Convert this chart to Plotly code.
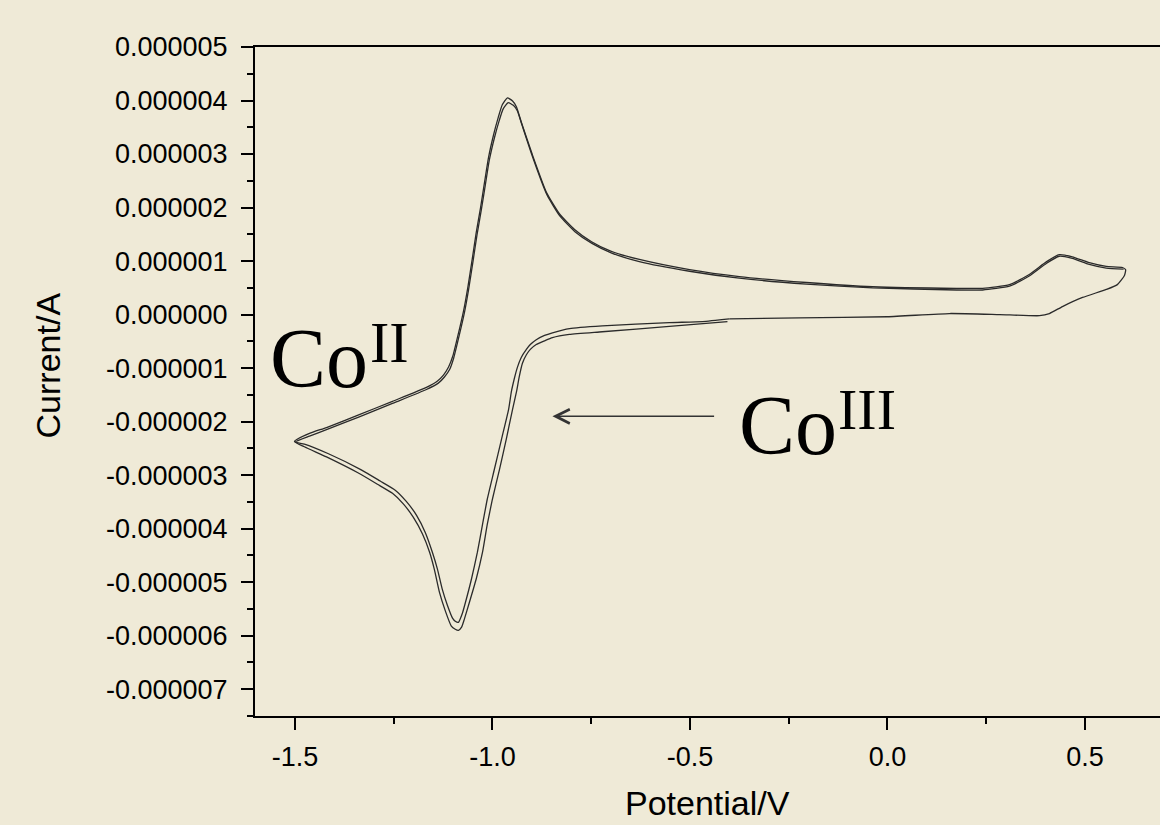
import plotly.graph_objects as go

# ---- data (potential in V, current in microamps) ----
# cycle 1: starts at -0.40 V, cathodic sweep to -1.50 V, anodic to +0.60 V, back to -0.40 V
c1_v = [-0.405, -0.552, -0.722, -0.805, -0.848, -0.868, -0.889, -0.904, -0.914, -0.924, -0.932, -0.939,
        -0.949, -0.965, -0.982, -1.000, -1.013, -1.025, -1.041, -1.058, -1.071, -1.078, -1.086, -1.094,
        -1.104, -1.119, -1.134, -1.147, -1.159, -1.177, -1.200, -1.225, -1.253, -1.291, -1.337, -1.420,
        -1.476, -1.501,
        -1.463, -1.420, -1.337, -1.253, -1.167, -1.139, -1.124, -1.111, -1.100, -1.086, -1.073, -1.062,
        -1.051, -1.041, -1.030, -1.020, -1.010, -0.997, -0.985, -0.975, -0.962, -0.949, -0.939, -0.927,
        -0.899, -0.863, -0.830, -0.792, -0.749, -0.699, -0.628, -0.501, -0.375, -0.205, -0.038, 0.175,
        0.241, 0.309, 0.359, 0.403, 0.435, 0.468, 0.511, 0.554, 0.595, 0.603,
        0.600, 0.582, 0.554, 0.494, 0.443, 0.410, 0.385, 0.284, 0.157, 0.0, -0.223, -0.400]
c1_i = [-0.13, -0.22, -0.32, -0.37, -0.43, -0.49, -0.56, -0.65, -0.75, -0.91, -1.16, -1.44,
        -1.77, -2.33, -2.89, -3.45, -3.92, -4.44, -4.94, -5.37, -5.69, -5.84, -5.90, -5.88,
        -5.82, -5.54, -5.19, -4.76, -4.44, -4.10, -3.79, -3.54, -3.34, -3.17, -2.97, -2.66,
        -2.47, -2.37,
        -2.22, -2.11, -1.87, -1.62, -1.36, -1.24, -1.13, -0.98, -0.77, -0.35, 0.07, 0.52,
        1.04, 1.53, 2.00, 2.47, 2.93, 3.36, 3.69, 3.92, 4.05, 3.99, 3.88, 3.60,
        2.99, 2.28, 1.88, 1.59, 1.36, 1.18, 1.03, 0.84, 0.71, 0.60, 0.52, 0.49,
        0.49, 0.56, 0.75, 0.99, 1.12, 1.08, 0.97, 0.90, 0.88, 0.84,
        0.73, 0.56, 0.47, 0.32, 0.15, 0.02, -0.02, 0.00, 0.02, -0.04, -0.06, -0.08]

# cycle 2: continues from -0.40 V to -1.50 V and back to +0.60 V
c2_v = [-0.400, -0.468, -0.552, -0.722, -0.805, -0.848, -0.868, -0.889, -0.904, -0.914, -0.927, -0.937,
        -0.944, -0.952, -0.959, -0.977, -0.995, -1.013, -1.025, -1.038, -1.053, -1.068, -1.076, -1.086,
        -1.094, -1.101, -1.114, -1.127, -1.139, -1.152, -1.170, -1.192, -1.218, -1.246, -1.284, -1.332,
        -1.415, -1.476, -1.499,
        -1.463, -1.420, -1.337, -1.253, -1.167, -1.137, -1.122, -1.108, -1.098, -1.084, -1.071, -1.060,
        -1.049, -1.039, -1.028, -1.018, -1.008, -0.995, -0.983, -0.973, -0.960, -0.947, -0.937, -0.925,
        -0.898, -0.862, -0.829, -0.791, -0.748, -0.698, -0.628, -0.501, -0.375, -0.205, -0.038, 0.175,
        0.241, 0.309, 0.359, 0.403, 0.435, 0.468, 0.511, 0.554, 0.598]
c2_i = [-0.08, -0.13, -0.15, -0.21, -0.26, -0.34, -0.39, -0.47, -0.56, -0.65, -0.80, -0.99,
        -1.18, -1.44, -1.77, -2.33, -2.89, -3.45, -3.92, -4.44, -4.94, -5.37, -5.58, -5.75,
        -5.73, -5.67, -5.43, -5.13, -4.76, -4.44, -4.07, -3.75, -3.49, -3.28, -3.11, -2.90,
        -2.60, -2.42, -2.38,
        -2.27, -2.15, -1.91, -1.66, -1.40, -1.28, -1.17, -1.02, -0.81, -0.39, 0.03, 0.48,
        1.00, 1.49, 1.96, 2.42, 2.88, 3.30, 3.62, 3.84, 3.96, 3.91, 3.81, 3.54,
        2.94, 2.24, 1.84, 1.55, 1.33, 1.15, 0.99, 0.81, 0.68, 0.57, 0.50, 0.46,
        0.46, 0.53, 0.72, 0.96, 1.09, 1.05, 0.94, 0.87, 0.85]

x_tickvals = [-1.5, -1.0, -0.5, 0.0, 0.5]
x_ticktext = ["-1.5", "-1.0", "-0.5", "0.0", "0.5"]
y_tickvals = [5e-6, 4e-6, 3e-6, 2e-6, 1e-6, 0, -1e-6, -2e-6, -3e-6, -4e-6, -5e-6, -6e-6, -7e-6]
y_ticktext = ["0.000005", "0.000004", "0.000003", "0.000002", "0.000001", "0.000000",
              "-0.000001", "-0.000002", "-0.000003", "-0.000004", "-0.000005", "-0.000006", "-0.000007"]

BG = "#EFEAD7"
LINE = "#2b2b2b"
SANS = "Liberation Sans, Arial, sans-serif"
SERIF = "Liberation Serif, Times New Roman, serif"

fig = go.Figure()
for vs, cs in ((c1_v, c1_i), (c2_v, c2_i)):
    fig.add_trace(go.Scatter(x=vs, y=[v * 1e-6 for v in cs], mode="lines",
                             line=dict(color=LINE, width=1.3, shape="spline", smoothing=0.5),
                             showlegend=False, hoverinfo="skip"))

axis_common = dict(showline=True, linecolor="black", linewidth=2, ticks="outside",
                   ticklen=12, tickwidth=2, tickcolor="black", showgrid=False, zeroline=False,
                   tickfont=dict(family=SANS, size=27, color="black"))

fig.update_xaxes(range=[-1.601, 0.690], tickmode="array", tickvals=x_tickvals, ticktext=x_ticktext,
                 mirror=True, ticklabelstandoff=4,
                 minor=dict(dtick=0.25, tick0=0, ticklen=6, tickwidth=2, ticks="outside",
                            tickcolor="black", showgrid=False),
                 **axis_common)
fig.update_yaxes(range=[-7.5e-6, 5e-6], tickmode="array", tickvals=y_tickvals, ticktext=y_ticktext,
                 ticklabelstandoff=8,
                 minor=dict(dtick=0.5e-6, tick0=0, ticklen=6, tickwidth=2, ticks="outside",
                            tickcolor="black", showgrid=False),
                 **axis_common)

fig.add_annotation(text="Potential/V", xref="paper", yref="paper", x=0.5, y=0, yshift=-66,
                   xanchor="center", yanchor="top", showarrow=False,
                   font=dict(family=SANS, size=34, color="black"))
fig.add_annotation(text="Current/A", xref="paper", yref="y", x=0, xshift=-207, y=-0.95e-6,
                   xanchor="center", yanchor="middle", textangle=-90, showarrow=False,
                   font=dict(family=SANS, size=34, color="black"))

# Co(II) label
fig.add_annotation(text="Co", x=-1.567, y=-0.82e-6, xanchor="left", yanchor="middle",
                   showarrow=False, font=dict(family=SERIF, size=84, color="black"))
fig.add_annotation(text="II", x=-1.314, y=-0.53e-6, xanchor="left", yanchor="middle",
                   showarrow=False, font=dict(family=SERIF, size=58, color="black"))
# Co(III) label
fig.add_annotation(text="Co", x=-0.382, y=-2.07e-6, xanchor="left", yanchor="middle",
                   showarrow=False, font=dict(family=SERIF, size=84, color="black"))
fig.add_annotation(text="III", x=-0.129, y=-1.77e-6, xanchor="left", yanchor="middle",
                   showarrow=False, font=dict(family=SERIF, size=58, color="black"))
# arrow
fig.add_annotation(x=-0.848, y=-1.90e-6, ax=-0.435, ay=-1.90e-6, axref="x", ayref="y",
                   text="", showarrow=True, arrowhead=5, arrowsize=2, arrowwidth=1.4,
                   arrowcolor="#333333", standoff=0)

fig.update_layout(width=1160, height=825, paper_bgcolor=BG, plot_bgcolor=BG,
                  margin=dict(l=255, r=0, t=47, b=109), showlegend=False)

fig.write_html("out.html")
